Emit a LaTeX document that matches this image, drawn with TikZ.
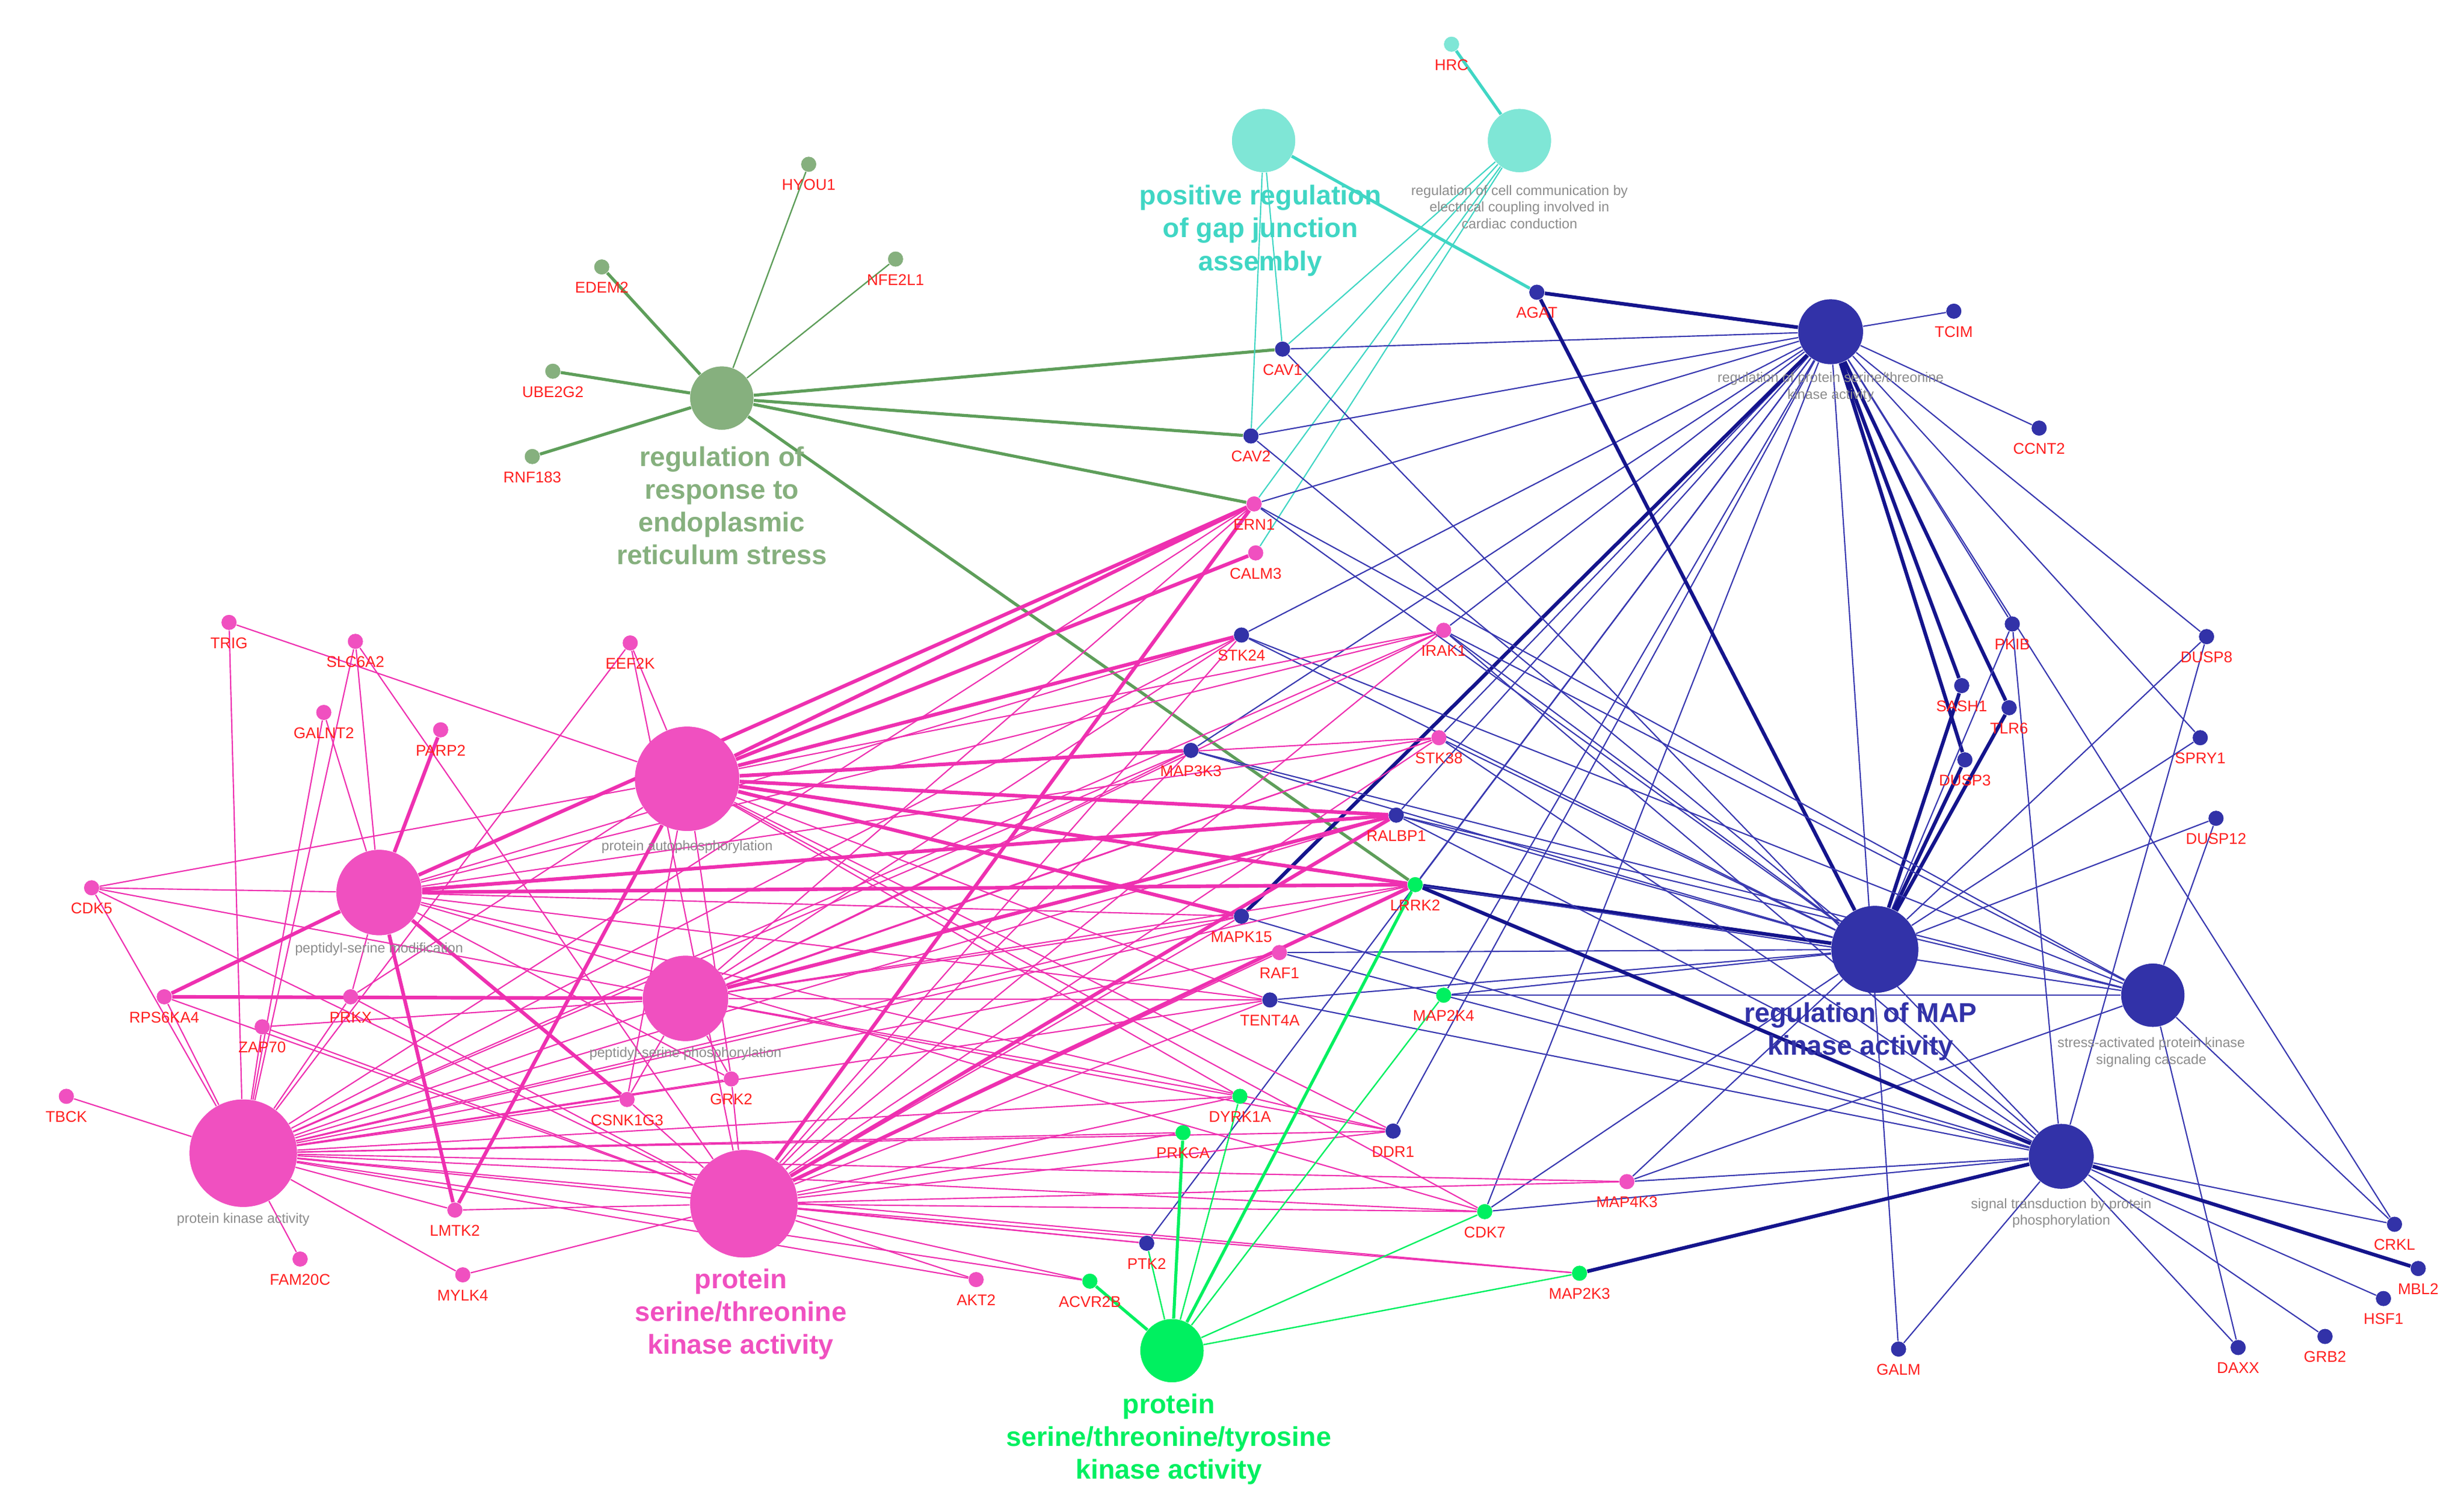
\documentclass[tikz,border=0pt]{standalone}
\usepackage{fontspec}
\setmainfont{Liberation Sans}
\definecolor{cG}{HTML}{86B07E}
\definecolor{eG}{HTML}{5E9E5A}
\definecolor{cC}{HTML}{7FE6D6}
\definecolor{tC}{HTML}{40D6C4}
\definecolor{cB}{HTML}{3232A8}
\definecolor{eB}{HTML}{3838B0}
\definecolor{eBd}{HTML}{14148C}
\definecolor{cP}{HTML}{F050C0}
\definecolor{eP}{HTML}{EE30B0}
\definecolor{cY}{HTML}{00F060}
\definecolor{cR}{HTML}{FF2020}
\definecolor{tGr}{HTML}{8C8C8C}
\begin{document}
\begin{tikzpicture}[x=0.02cm,y=-0.02cm,
  gene/.style={circle,inner sep=0,minimum size=0.19cm},
  glab/.style={font=\fontsize{5.6}{6}\selectfont,text=cR,inner sep=0},
  term/.style={circle,inner sep=0},
  small/.style={font=\fontsize{5}{6}\selectfont,text=tGr,align=center,inner sep=0},
  big/.style={font=\bfseries\fontsize{9.8}{11.8}\selectfont,align=center,inner sep=0},
  eg/.style={draw=eG,line width=0.5pt},
  ec/.style={draw=tC,line width=0.45pt},
  eb/.style={draw=eB,line width=0.45pt},
  ebt/.style={draw=eBd,line width=1.3pt},
  ep/.style={draw=eP,line width=0.45pt},
  ey/.style={draw=cY,line width=0.5pt},
  thk/.style={line width=1.3pt}]
\useasboundingbox (0,0) rectangle (1560,955);
\node[term,fill=cG,minimum size=0.8cm] (ER) at (457,252) {};
\node[term,fill=cC,minimum size=0.8cm] (GJ) at (800,89) {};
\node[term,fill=cC,minimum size=0.8cm] (CC) at (962,89) {};
\node[term,fill=cB,minimum size=0.82cm] (RK) at (1159,210) {};
\node[term,fill=cB,minimum size=1.1cm] (MK) at (1187,601) {};
\node[term,fill=cB,minimum size=0.8cm] (SA) at (1363,630) {};
\node[term,fill=cB,minimum size=0.82cm] (ST) at (1305,732) {};
\node[term,fill=cP,minimum size=1.32cm] (PA) at (435,493) {};
\node[term,fill=cP,minimum size=1.08cm] (PM) at (240,565) {};
\node[term,fill=cP,minimum size=1.08cm] (PP) at (434,632) {};
\node[term,fill=cP,minimum size=1.36cm] (PK) at (154,730) {};
\node[term,fill=cP,minimum size=1.36cm] (PS) at (471,762) {};
\node[term,fill=cY,minimum size=0.8cm] (PY) at (742,855) {};
\foreach \n/\x/\y/\c in {HYOU1/512/104/cG,EDEM2/381/169/cG,NFE2L1/567/164/cG,UBE2G2/350/235/cG,RNF183/337/289/cG,
 HRC/919/28/cC,AGAT/973/185/cB,TCIM/1237/197/cB,CAV1/812/221/cB,CAV2/792/276/cB,CCNT2/1291/271/cB,
 ERN1/794/319/cP,CALM3/795/350/cP,STK24/786/402/cB,IRAK1/914/399/cP,PKIB/1274/395/cB,DUSP8/1397/403/cB,
 SASH1/1242/434/cB,TLR6/1272/448/cB,DUSP3/1244/481/cB,SPRY1/1393/467/cB,STK38/911/467/cP,MAP3K3/754/475/cB,
 RALBP1/884/516/cB,DUSP12/1403/518/cB,LRRK2/896/560/cY,MAPK15/786/580/cB,RAF1/810/603/cP,MAP2K4/914/630/cY,
 TENT4A/804/633/cB,DYRK1A/785/694/cY,PRKCA/749/717/cY,DDR1/882/716/cB,MAP4K3/1030/748/cP,CDK7/940/767/cY,
 PTK2/726/787/cB,MAP2K3/1000/806/cY,ACVR2B/690/811/cY,AKT2/618/810/cP,GALM/1202/854/cB,CRKL/1516/775/cB,
 MBL2/1531/803/cB,HSF1/1509/822/cB,DAXX/1417/853/cB,GRB2/1472/846/cB,
 TRIG/145/394/cP,SLC6A2/225/406/cP,EEF2K/399/407/cP,GALNT2/205/451/cP,PARP2/279/462/cP,CDK5/58/562/cP,
 RPS6KA4/104/631/cP,PRKX/222/631/cP,ZAP70/166/650/cP,TBCK/42/694/cP,CSNK1G3/397/696/cP,GRK2/463/683/cP,
 LMTK2/288/766/cP,FAM20C/190/797/cP,MYLK4/293/807/cP}
 { \node[gene,fill=\c] (\n) at (\x,\y) {}; }
\foreach \g in {HYOU1,NFE2L1} \draw[eg] (ER)--(\g);
\foreach \g in {EDEM2,UBE2G2,RNF183,CAV1,CAV2,ERN1,LRRK2} \draw[eg,line width=1.1pt] (ER)--(\g);
\foreach \g in {CAV1,CAV2} \draw[ec] (GJ)--(\g);
\draw[ec,line width=1.1pt] (GJ)--(AGAT);
\foreach \g in {CAV1,CAV2,CALM3,ERN1} \draw[ec] (CC)--(\g);
\draw[ec,line width=1.1pt] (CC)--(HRC);
\foreach \g in {TCIM,CCNT2,CAV1,CAV2,ERN1,STK24,MAP3K3,STK38,RALBP1,LRRK2,DDR1,PKIB,CDK7,GALM,DUSP8,SPRY1,MAP2K4,PTK2,CRKL,IRAK1}
  \draw[eb] (RK)--(\g);
\foreach \g in {AGAT,DUSP3,SASH1,TLR6,MAPK15} \draw[ebt] (RK)--(\g);
\foreach \g in {RALBP1,STK38,IRAK1,MAP3K3,RAF1,MAP2K4,TENT4A,CDK7,MAP4K3,DUSP8,SPRY1,DUSP12,PKIB,ERN1,CAV2,STK24}
  \draw[eb] (MK)--(\g);
\foreach \g in {AGAT,DUSP3,SASH1,TLR6,LRRK2} \draw[ebt] (MK)--(\g);
\foreach \g in {ERN1,IRAK1,MAP3K3,RALBP1,LRRK2,MAP2K4,MAP4K3,DUSP12,CRKL,DAXX,STK24}
  \draw[eb] (SA)--(\g);
\foreach \g in {STK38,IRAK1,RALBP1,MAP4K3,CRKL,HSF1,DAXX,GRB2,GALM,DUSP8,PKIB,MAPK15,RAF1,CDK7,CAV1,TENT4A}
  \draw[eb] (ST)--(\g);
\foreach \g in {LRRK2,MAP2K3,MBL2} \draw[ebt] (ST)--(\g);
\foreach \g in {EEF2K,IRAK1,CDK5,CSNK1G3,GRK2,PRKX,DYRK1A,DDR1,TRIG,STK38,TENT4A,CDK7}
  \draw[ep] (PA)--(\g);
\foreach \g in {ERN1,CALM3,STK24,MAP3K3,RALBP1,LRRK2,MAPK15,LMTK2} \draw[ep,thk] (PA)--(\g);
\foreach \g in {GALNT2,CDK5,PRKX,STK24,IRAK1,MAPK15,GRK2,TENT4A,CDK7,SLC6A2,STK38,DDR1}
  \draw[ep] (PM)--(\g);
\foreach \g in {PARP2,RPS6KA4,ERN1,RALBP1,LRRK2,LMTK2,CSNK1G3} \draw[ep,thk] (PM)--(\g);
\foreach \g in {PRKX,ERN1,LRRK2,STK24,IRAK1,MAP3K3,CSNK1G3,GRK2,DYRK1A,MAPK15,TENT4A,CDK5,ZAP70,STK38,DDR1}
  \draw[ep] (PP)--(\g);
\foreach \g in {RPS6KA4,RALBP1} \draw[ep,thk] (PP)--(\g);
\foreach \g in {TRIG,SLC6A2,GALNT2,CDK5,RPS6KA4,ZAP70,PRKX,TBCK,FAM20C,MYLK4,LMTK2,CSNK1G3,GRK2,ERN1,STK24,MAP3K3,IRAK1,RALBP1,LRRK2,MAPK15,RAF1,DYRK1A,PRKCA,DDR1,PTK2,AKT2,CDK7,MAP4K3,MAP2K3,ACVR2B,TENT4A,STK38,EEF2K}
  \draw[ep] (PK)--(\g);
\foreach \g in {STK24,IRAK1,MAP3K3,STK38,MAPK15,RAF1,TENT4A,DYRK1A,PRKCA,DDR1,CDK7,PTK2,AKT2,ACVR2B,MAP2K3,MAP4K3,GRK2,CSNK1G3,LMTK2,EEF2K,PRKX,SLC6A2,CDK5,RPS6KA4,MYLK4,ZAP70}
  \draw[ep] (PS)--(\g);
\foreach \g in {ERN1,RALBP1,LRRK2} \draw[ep,thk] (PS)--(\g);
\foreach \g in {MAP2K4,DYRK1A,CDK7,MAP2K3,PTK2} \draw[ey] (PY)--(\g);
\foreach \g in {LRRK2,PRKCA,ACVR2B} \draw[ey,line width=1.1pt] (PY)--(\g);
\node[term,fill=cG,minimum size=0.8cm] at (ER) {};
\node[term,fill=cC,minimum size=0.8cm] at (GJ) {};
\node[term,fill=cC,minimum size=0.8cm] at (CC) {};
\node[term,fill=cB,minimum size=0.82cm] at (RK) {};
\node[term,fill=cB,minimum size=1.1cm] at (MK) {};
\node[term,fill=cB,minimum size=0.8cm] at (SA) {};
\node[term,fill=cB,minimum size=0.82cm] at (ST) {};
\node[term,fill=cP,minimum size=1.32cm] at (PA) {};
\node[term,fill=cP,minimum size=1.08cm] at (PM) {};
\node[term,fill=cP,minimum size=1.08cm] at (PP) {};
\node[term,fill=cP,minimum size=1.36cm] at (PK) {};
\node[term,fill=cP,minimum size=1.36cm] at (PS) {};
\node[term,fill=cY,minimum size=0.8cm] at (PY) {};
\foreach \n/\x/\y/\c in {HYOU1/512/104/cG,EDEM2/381/169/cG,NFE2L1/567/164/cG,UBE2G2/350/235/cG,RNF183/337/289/cG,
 HRC/919/28/cC,AGAT/973/185/cB,TCIM/1237/197/cB,CAV1/812/221/cB,CAV2/792/276/cB,CCNT2/1291/271/cB,
 ERN1/794/319/cP,CALM3/795/350/cP,STK24/786/402/cB,IRAK1/914/399/cP,PKIB/1274/395/cB,DUSP8/1397/403/cB,
 SASH1/1242/434/cB,TLR6/1272/448/cB,DUSP3/1244/481/cB,SPRY1/1393/467/cB,STK38/911/467/cP,MAP3K3/754/475/cB,
 RALBP1/884/516/cB,DUSP12/1403/518/cB,LRRK2/896/560/cY,MAPK15/786/580/cB,RAF1/810/603/cP,MAP2K4/914/630/cY,
 TENT4A/804/633/cB,DYRK1A/785/694/cY,PRKCA/749/717/cY,DDR1/882/716/cB,MAP4K3/1030/748/cP,CDK7/940/767/cY,
 PTK2/726/787/cB,MAP2K3/1000/806/cY,ACVR2B/690/811/cY,AKT2/618/810/cP,GALM/1202/854/cB,CRKL/1516/775/cB,
 MBL2/1531/803/cB,HSF1/1509/822/cB,DAXX/1417/853/cB,GRB2/1472/846/cB,
 TRIG/145/394/cP,SLC6A2/225/406/cP,EEF2K/399/407/cP,GALNT2/205/451/cP,PARP2/279/462/cP,CDK5/58/562/cP,
 RPS6KA4/104/631/cP,PRKX/222/631/cP,ZAP70/166/650/cP,TBCK/42/694/cP,CSNK1G3/397/696/cP,GRK2/463/683/cP,
 LMTK2/288/766/cP,FAM20C/190/797/cP,MYLK4/293/807/cP}
 { \node[gene,fill=\c] at (\x,\y) {}; \node[glab] at (\x,\y+13) {\n}; }
\node[big,text=cG] at (457,320) {regulation of\\response to\\endoplasmic\\reticulum stress};
\node[big,text=tC] at (798,146) {positive regulation\\of gap junction\\assembly};
\node[small] at (962,131) {regulation of cell communication by\\electrical coupling involved in\\cardiac conduction};
\node[small] at (1159,245) {regulation of protein serine/threonine\\kinase activity};
\node[big,text=cB] at (1178,653) {regulation of MAP\\kinase activity};
\node[small] at (1362,666) {stress-activated protein kinase\\signaling cascade};
\node[small] at (1305,768) {signal transduction by protein\\phosphorylation};
\node[small] at (435,536) {protein autophosphorylation};
\node[small] at (240,601) {peptidyl-serine modification};
\node[small] at (434,667) {peptidyl-serine phosphorylation};
\node[small] at (154,772) {protein kinase activity};
\node[big,text=cP] at (469,832) {protein\\serine/threonine\\kinase activity};
\node[big,text=cY] at (740,911) {protein\\serine/threonine/tyrosine\\kinase activity};
\end{tikzpicture}
\end{document}
